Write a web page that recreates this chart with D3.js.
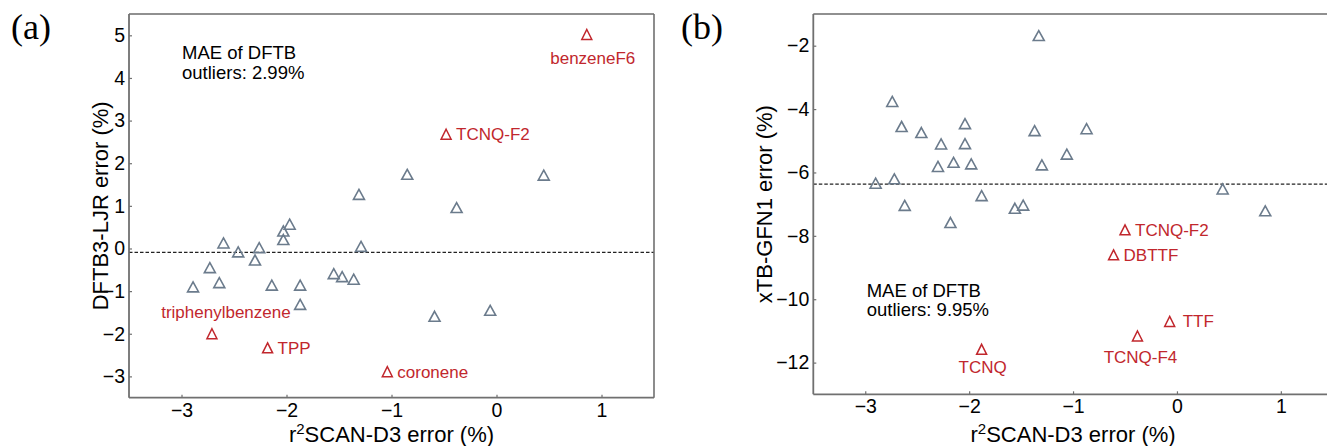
<!DOCTYPE html>
<html>
<head>
<meta charset="utf-8">
<script src="https://cdn.jsdelivr.net/npm/d3@7"></script>
<style>
  body { margin: 0; background: #fff; }
  text { font-family: "Liberation Sans", Arial, sans-serif; }
  .tick line { stroke: #707070; stroke-width: 1.2; }
  .tick text { font-size: 19.5px; fill: #000; }
</style>
</head>
<body>
<svg id="chart" width="1327" height="446"></svg>
<script>
// ---- data ----
const xTicks = [-3, -2, -1, 0, 1];

// panel (a): DFTB3-LJR vs r2SCAN-D3
const aYTicks = [-3, -2, -1, 0, 1, 2, 3, 4, 5];
const aGreyX = [-2.89, -2.73, -2.60, -2.64, -2.46, -2.30, -2.26, -2.14, -2.03, -2.03, -1.97, -1.87, -1.87,
                -1.55, -1.47, -1.36, -1.29, -0.59, -0.06, -0.85, -1.31, -0.38, 0.45];
const aGreyY = [-0.90, -0.45, 0.13, -0.80, -0.08, -0.27, 0.02, -0.86, 0.41, 0.21, 0.57, -0.86, -1.31,
                -0.59, -0.66, -0.72, 0.05, -1.59, -1.45, 1.74, 1.27, 0.96, 1.72];
const aOutNames = ["benzeneF6", "TCNQ-F2", "triphenylbenzene", "TPP", "coronene"];
const aOutX = [0.86, -0.48, -2.71, -2.18, -1.04];
const aOutY = [5.02, 2.68, -2.00, -2.33, -2.89];
const aMean = -0.09;
const aMaeText = ["MAE of DFTB", "outliers: 2.99%"];

// panel (b): xTB-GFN1 vs r2SCAN-D3
const bYTicks = [-12, -10, -8, -6, -4, -2];
const bGreyX = [-2.90, -2.74, -2.72, -2.65, -2.62, -2.46, -2.27, -2.30, -2.15, -2.04, -2.04, -1.98, -1.88,
                -2.18, -1.33, -1.37, -0.87, -1.06, -1.30, -1.56, -1.48, 0.44, 0.85];
const bGreyY = [-6.34, -3.76, -6.20, -4.55, -7.04, -4.74, -5.10, -5.81, -5.68, -4.46, -5.09, -5.73, -6.73,
                -7.58, -1.68, -4.68, -4.62, -5.42, -5.76, -7.13, -7.03, -6.52, -7.21];
const bOutNames = ["TCNQ-F2", "DBTTF", "TTF", "TCNQ-F4", "TCNQ"];
const bOutX = [-0.50, -0.61, -0.07, -0.38, -1.88];
const bOutY = [-7.81, -8.60, -10.70, -11.16, -11.58];
const bMean = -6.37;
const bMaeText = ["MAE of DFTB", "outliers: 9.95%"];

// ---- label placement (pixels relative to marker) ----
const labelPlace = {
  "benzeneF6":        {dx: 6,  dy: 30, anchor: "middle"},
  "triphenylbenzene": {dx: 14, dy: -16, anchor: "middle"},
  "TCNQ-F4":          {dx: 3,  dy: 27, anchor: "middle"},
  "TCNQ":             {dx: 1,  dy: 24, anchor: "middle"},
  "TTF":              {dx: 13, dy: 6,  anchor: "start"}
};
const defaultPlace = {dx: 10, dy: 6, anchor: "start"};

const greyColor = "#6b7b8c";
const redColor = "#c1272d";

const svg = d3.select("#chart");
const fmt = d3.format("d");

function triangle(w, h) {
  return `M0,${-h / 2}L${w / 2},${h / 2}L${-w / 2},${h / 2}Z`;
}

function drawPanel(cfg) {
  const x = d3.scaleLinear().domain([-3.5, 1.5]).range([cfg.left, cfg.right]);
  const y = d3.scaleLinear().domain(cfg.yDomain).range([cfg.bottom, cfg.top]);
  const g = svg.append("g");

  // dashed mean line
  g.append("line")
    .attr("x1", cfg.left).attr("x2", cfg.right)
    .attr("y1", y(cfg.mean)).attr("y2", y(cfg.mean))
    .attr("stroke", "#222").attr("stroke-width", 1.2)
    .attr("stroke-dasharray", "3.5,2");

  // axes
  g.append("g")
    .attr("transform", `translate(0,${cfg.bottom})`)
    .call(d3.axisBottom(x).tickValues(xTicks).tickFormat(fmt).tickSize(-3).tickPadding(5))
    .call(a => a.select(".domain").remove());
  g.append("g")
    .attr("transform", `translate(${cfg.left},0)`)
    .call(d3.axisLeft(y).tickValues(cfg.yTicks).tickFormat(fmt).tickSize(-3).tickPadding(4))
    .call(a => a.select(".domain").remove());

  // spines
  g.append("line").attr("x1", cfg.left).attr("x2", cfg.right).attr("y1", cfg.top).attr("y2", cfg.top)
    .attr("stroke", "#222").attr("stroke-width", 1.2);
  g.append("line").attr("x1", cfg.right).attr("x2", cfg.right).attr("y1", cfg.top).attr("y2", cfg.bottom)
    .attr("stroke", "#707070").attr("stroke-width", 1.6);
  g.append("line").attr("x1", cfg.left).attr("x2", cfg.left).attr("y1", cfg.top).attr("y2", cfg.bottom)
    .attr("stroke", "#707070").attr("stroke-width", 1.8);
  g.append("line").attr("x1", cfg.left).attr("x2", cfg.right).attr("y1", cfg.bottom).attr("y2", cfg.bottom)
    .attr("stroke", "#707070").attr("stroke-width", 1.8);

  // grey points
  const grey = cfg.greyX.map((v, i) => ({x: v, y: cfg.greyY[i]}));
  g.append("g").selectAll("path").data(grey).enter().append("path")
    .attr("d", triangle(11, 10))
    .attr("transform", d => `translate(${x(d.x)},${y(d.y)})`)
    .attr("fill", "none").attr("stroke", greyColor).attr("stroke-width", 1.6);

  // outliers
  const outs = cfg.outNames.map((n, i) => ({name: n, x: cfg.outX[i], y: cfg.outY[i]}));
  g.append("g").selectAll("path").data(outs).enter().append("path")
    .attr("d", triangle(10, 10))
    .attr("transform", d => `translate(${x(d.x)},${y(d.y)})`)
    .attr("fill", "none").attr("stroke", redColor).attr("stroke-width", 1.5);
  g.append("g").selectAll("text").data(outs).enter().append("text")
    .each(function(d) {
      const p = labelPlace[d.name] || defaultPlace;
      d3.select(this)
        .attr("x", x(d.x) + p.dx).attr("y", y(d.y) + p.dy)
        .attr("text-anchor", p.anchor);
    })
    .attr("font-size", 17).attr("fill", redColor)
    .text(d => d.name);

  // MAE note
  g.append("g").selectAll("text").data(cfg.mae).enter().append("text")
    .attr("x", cfg.left + cfg.maeDx)
    .attr("y", (d, i) => cfg.maeY + i * 19.5)
    .attr("font-size", 18.5).attr("fill", "#000")
    .text(d => d);

  // axis titles
  const xl = g.append("text")
    .attr("x", (cfg.left + cfg.right) / 2).attr("y", 442)
    .attr("text-anchor", "middle").attr("font-size", 22);
  xl.append("tspan").text("r");
  xl.append("tspan").attr("font-size", 15).attr("dy", -8).text("2");
  xl.append("tspan").attr("dy", 8).text("SCAN-D3 error (%)");

  g.append("text")
    .attr("transform", `translate(${cfg.yLabelX},${(cfg.top + cfg.bottom) / 2}) rotate(-90)`)
    .attr("text-anchor", "middle").attr("font-size", 22)
    .text(cfg.yLabel);

  // panel letter
  svg.append("text")
    .attr("x", cfg.letterX).attr("y", 39)
    .style("font-family", "'Liberation Serif', 'DejaVu Serif', serif")
    .attr("font-size", 36)
    .text(cfg.letter);
}

drawPanel({
  left: 129, right: 654, top: 14, bottom: 397.7,
  yDomain: [-3.5, 5.5], yTicks: aYTicks,
  greyX: aGreyX, greyY: aGreyY,
  outNames: aOutNames, outX: aOutX, outY: aOutY,
  mean: aMean, mae: aMaeText, maeDx: 53, maeY: 59,
  yLabel: "DFTB3-LJR error (%)", yLabelX: 108,
  letter: "(a)", letterX: 11
});

drawPanel({
  left: 813.3, right: 1332.8, top: 14, bottom: 394.3,
  yDomain: [-13, -1], yTicks: bYTicks,
  greyX: bGreyX, greyY: bGreyY,
  outNames: bOutNames, outX: bOutX, outY: bOutY,
  mean: bMean, mae: bMaeText, maeDx: 53.4, maeY: 296.5,
  yLabel: "xTB-GFN1 error (%)", yLabelX: 772,
  letter: "(b)", letterX: 681
});
</script>
</body>
</html>
